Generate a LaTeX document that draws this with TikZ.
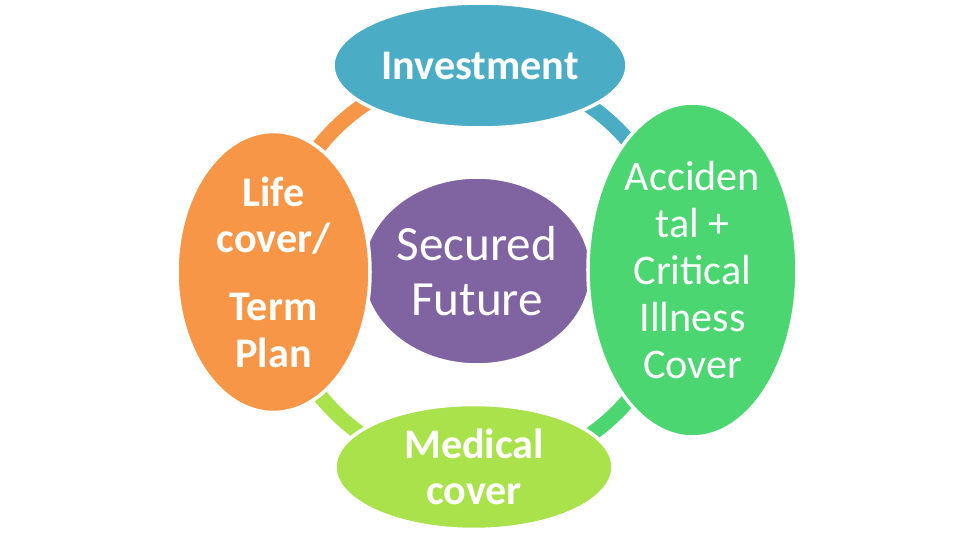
\documentclass[tikz,border=0pt]{standalone}
\usepackage{fontspec}
\setmainfont{Carlito}
\usetikzlibrary{shapes.geometric}

\definecolor{investblue}{HTML}{4BACC6}
\definecolor{accgreen}{HTML}{4CD671}
\definecolor{medlime}{HTML}{A9E24A}
\definecolor{lifeorange}{HTML}{F79646}
\definecolor{futurepurple}{HTML}{8064A2}

\tikzset{
    bubble/.style={ellipse,draw=white,line width=1pt,inner sep=0pt,
        text=white,align=center},
    boldtext/.style={font=\fontsize{12}{13.2}\selectfont\bfseries},
    plaintext/.style={font=\fontsize{12}{13.4}\selectfont},
    ring/.style={line width=4.3pt}
}

\begin{document}
\begin{tikzpicture}
        \useasboundingbox (0,0) rectangle (9.6,5.4);
        \coordinate (O) at (4.76,2.695);

        % ring behind the bubbles
        \draw[ring,lifeorange] (O) ++(180:2) arc (180:90:2);
        \draw[ring,investblue] (O) ++(90:2) arc (90:0:2);
        \draw[ring,accgreen] (O) ++(0:2) arc (0:-90:2);
        \draw[ring,medlime] (O) ++(270:2) arc (270:180:2);

        \node[bubble,fill=futurepurple,minimum width=2.29cm,minimum height=1.88cm,
              font=\fontsize{14}{15.8}\selectfont] (fut) at (4.77,2.69) {Secured\\Future};
        \node[bubble,boldtext,fill=investblue,minimum width=2.94cm,minimum height=1.25cm]
              (inv) at (4.80,4.745) {Investment};
        \node[bubble,plaintext,fill=accgreen,minimum width=2.09cm,minimum height=3.34cm]
              (acc) at (6.925,2.70) {Acciden\\tal +\\Critical\\Illness\\Cover};
        \node[bubble,boldtext,fill=medlime,minimum width=2.78cm,minimum height=1.25cm]
              (med) at (4.74,0.73) {Medical\\cover};
        \node[bubble,boldtext,fill=lifeorange,minimum width=1.93cm,minimum height=2.81cm]
              (life) at (2.735,2.68) {Life\\cover/\\[0.22cm]Term\\Plan};
    \end{tikzpicture}
\end{document}
